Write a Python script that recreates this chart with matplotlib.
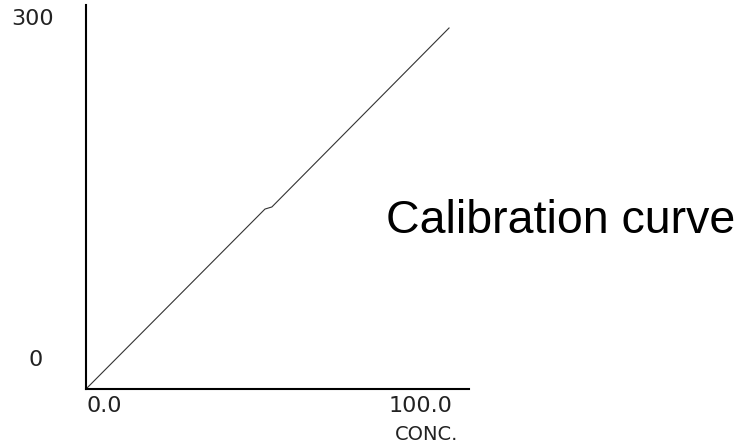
import matplotlib
matplotlib.use('Agg')
import matplotlib.pyplot as plt
import matplotlib.transforms as mtransforms

# data
conc = [0.0, 49.3, 51.2, 100.0]
signal = [0.0, 146.3, 148.0, 293.5]

x_ticks = [0.0, 100.0]
x_labels = ['0.0', '100.0']
y_ticks = [0, 300]
y_labels = ['0', '300']

W, H = 747, 445
fig = plt.figure(figsize=(W/100, H/100), dpi=100)
ax = fig.add_axes([86/W, 56/H, 383/W, 384/H])

ax.plot(conc, signal, color='#333333', linewidth=0.8)

ax.set_xlim(0, 105.5)
ax.set_ylim(0, 312.2)

for s in ['top', 'right']:
    ax.spines[s].set_visible(False)
for s in ['left', 'bottom']:
    ax.spines[s].set_linewidth(1.5)
    ax.spines[s].set_color('black')

tick_font = dict(family='DejaVu Sans', fontsize=16, color='#222222')

ax.set_xticks(x_ticks)
ax.set_xticklabels(x_labels, **tick_font)
ax.set_yticks(y_ticks)
ax.set_yticklabels(y_labels, **tick_font)
ax.tick_params(length=0, pad=5)

# x labels: first aligned to the left, last to the right
xl = ax.get_xticklabels()
xl[0].set_ha('left')
xl[1].set_ha('right')
xl[1].set_transform(xl[1].get_transform() + mtransforms.ScaledTranslation(3/100, 0, fig.dpi_scale_trans))

# y labels sit a bit above their value
yl = ax.get_yticklabels()
yl[0].set_transform(yl[0].get_transform() + mtransforms.ScaledTranslation(-36/100, 31/100, fig.dpi_scale_trans))
yl[1].set_transform(yl[1].get_transform() + mtransforms.ScaledTranslation(-25/100, 3/100, fig.dpi_scale_trans))

fig.text(458/W, 1 - 435/H, 'CONC.', ha='right', va='center',
         family='DejaVu Sans', fontsize=14, color='#222222')

fig.text(386/W, 1 - 233/H, 'Calibration curve', ha='left', va='baseline',
         family='Liberation Sans', fontsize=33.5, color='black')

fig.savefig('out.png', dpi=100)
